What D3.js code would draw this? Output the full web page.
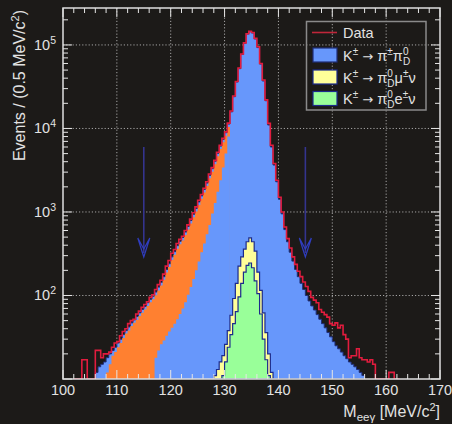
<!DOCTYPE html>
<html>
<head>
<meta charset="utf-8">
<script src="https://cdn.jsdelivr.net/npm/d3@7"></script>
<style>
  html, body { margin: 0; padding: 0; background: #1c1a18; }
  svg { display: block; }
  text { font-family: "Liberation Sans", Arial, Helvetica, sans-serif; fill: #e2e2e2; }
</style>
</head>
<body>
<svg id="chart" width="452" height="424"></svg>
<script>
// Histogram binning: 0.5 MeV bins, arrays start at their own low edge
const binWidth = 0.5;

// Data, bins from 102.0 MeV to 162.0 MeV (low edges)
const dataStart = 102.0;
const dataCounts = [
  0, 0, 0, 17, 17, 0, 0, 9, 22, 22,
  18, 20, 20, 21, 24, 27, 28, 33, 37, 40,
  46, 50, 52, 60, 65, 72, 78, 84, 95, 102,
  118, 135, 152, 180, 225, 262, 320, 356, 420, 470,
  512, 600, 700, 820, 980, 1150, 1380, 1620, 1920, 2300,
  2850, 3400, 4150, 5200, 6300, 7600, 9100, 11600, 16200, 24500,
  36500, 53000, 78000, 106000, 136000, 146000, 141000, 120000, 95000, 60000,
  38000, 22000, 11500, 6300, 3800, 2400, 1500, 1000, 660, 480,
  370, 290, 236, 195, 168, 145, 128, 112, 95, 88,
  82, 68, 63, 59, 55, 46, 44, 47, 41, 44,
  34, 30, 18, 19, 19, 23, 18, 17, 17, 16,
  17, 15, 9, 8, 0, 9, 0, 12, 12, 0,
  0
];

// Simulated K± → π±π0D, full sample (106.0 – 155.5)
const totalStart = 106.0;
const totalCounts = [
  12, 14, 15, 16, 18, 20, 22, 24, 27, 30,
  34, 38, 42, 47, 51, 56, 62, 68, 74, 82,
  90, 98, 110, 126, 144, 168, 205, 240, 290, 335,
  395, 445, 495, 575, 670, 790, 940, 1100, 1320, 1560,
  1860, 2220, 2750, 3300, 4050, 5050, 6150, 7400, 8900, 11300,
  15800, 24000, 36000, 52000, 77000, 105000, 135000, 144000, 139000, 118000,
  93000, 59000, 37000, 21500, 11000, 6000, 3650, 2300, 1420, 950,
  615, 440, 330, 258, 205, 168, 140, 118, 100, 86,
  75, 67, 59, 52, 46, 41, 36, 32, 28, 25,
  23, 21, 19, 17.5, 16, 15, 14, 13, 12, 11
];

// Low-mass tail component (108.0 – 130.5)
const tailStart = 108.0;
const tailCounts = [
  12, 15, 19, 21, 24, 27, 31, 35, 38, 43,
  47, 51, 57, 62, 68, 75, 83, 90, 101, 115,
  132, 154, 188, 220, 266, 308, 363, 410, 455, 530,
  617, 728, 866, 1013, 1216, 1437, 1713, 2045, 2533, 3040,
  3730, 4650, 5665, 6815, 8200, 10400
];

// Core component, left flank (116.5 – 130.5)
const coreStart = 116.5;
const coreCounts = [
  9, 18, 22, 26, 29, 33, 37, 41, 46, 52,
  60, 70, 83, 102, 126, 158, 200, 255, 330, 420,
  540, 700, 960, 1280, 1750, 2400, 3400, 5000, 8000
];

// K± → π0D μ±ν + K± → π0D e±ν, stacked (128.0 – 138.5)
const kmu3Start = 128.0;
const kmu3Counts = [
  11, 13, 16, 19, 26, 38, 58, 92, 140, 225,
  290, 360, 440, 490, 440, 340, 190, 115, 62, 36,
  20, 12
];

// K± → π0D e±ν (129.5 – 138.0)
const ke3Start = 129.5;
const ke3Counts = [
  11, 16, 24, 34, 46, 64, 96, 140, 190, 230,
  245, 215, 150, 105, 60, 30, 17, 11
];

// Signal-region boundaries (arrows)
const cutValues = [115, 145];

// Axes
const xDomain = [100, 170];
const xMajorTicks = [100, 110, 120, 130, 140, 150, 160, 170];
const yDomain = [10, 2.77e5];
const yDecades = [2, 3, 4, 5];

// ---------------------------------------------------------------
const svg = d3.select("#chart");
const W = 452, H = 424;
const frame = { left: 63, right: 440, top: 8, bottom: 379 };

svg.append("rect").attr("width", W).attr("height", H).attr("fill", "#1c1a18");

const x = d3.scaleLinear().domain(xDomain).range([frame.left, frame.right]);
const y = d3.scaleLog().domain(yDomain).range([frame.bottom, frame.top]);
const y0 = frame.bottom;
const yv = v => (v > yDomain[0] ? y(v) : y0);

svg.append("defs").append("clipPath").attr("id", "plotclip")
  .append("rect")
  .attr("x", frame.left).attr("y", frame.top)
  .attr("width", frame.right - frame.left).attr("height", frame.bottom - frame.top);

// Grid
const grid = svg.append("g").attr("stroke", "#c8c8c8").attr("stroke-width", 1)
  .attr("stroke-dasharray", "1.2,2").attr("opacity", 0.8);
xMajorTicks.slice(1, -1).forEach(v => {
  grid.append("line").attr("x1", x(v)).attr("x2", x(v))
    .attr("y1", frame.top).attr("y2", frame.bottom);
});
yDecades.forEach(d => {
  const v = Math.pow(10, d);
  grid.append("line").attr("x1", frame.left).attr("x2", frame.right)
    .attr("y1", y(v)).attr("y2", y(v));
});

// Step path of a histogram, closed to the axis floor
function stepPath(start, values) {
  let p = `M${x(start)},${y0}`;
  values.forEach((v, i) => {
    const e0 = start + i * binWidth, e1 = e0 + binWidth, yy = yv(v);
    p += `L${x(e0)},${yy}L${x(e1)},${yy}`;
  });
  p += `L${x(start + values.length * binWidth)},${y0}`;
  return p;
}

const plot = svg.append("g").attr("clip-path", "url(#plotclip)");

plot.append("path").attr("d", stepPath(totalStart, totalCounts) + "Z")
  .attr("fill", "#6797fb").attr("stroke", "#1f2d78").attr("stroke-width", 1);
plot.append("path").attr("d", stepPath(tailStart, tailCounts) + "Z")
  .attr("fill", "#ff8030");
plot.append("path").attr("d", stepPath(coreStart, coreCounts) + "Z")
  .attr("fill", "#6797fb");
plot.append("path").attr("d", stepPath(kmu3Start, kmu3Counts) + "Z")
  .attr("fill", "#ffff99").attr("stroke", "#1c2a8c").attr("stroke-width", 1.2);
plot.append("path").attr("d", stepPath(ke3Start, ke3Counts) + "Z")
  .attr("fill", "#99ff99").attr("stroke", "#1c2a8c").attr("stroke-width", 1.2);
plot.append("path").attr("d", stepPath(dataStart, dataCounts))
  .attr("fill", "none").attr("stroke", "#e21c3e").attr("stroke-width", 1.6);

// Cut arrows
cutValues.forEach(c => {
  const cx = x(c), top = 147, tip = 257;
  svg.append("line").attr("x1", cx).attr("x2", cx).attr("y1", top).attr("y2", tip - 4)
    .attr("stroke", "#34348e").attr("stroke-width", 1.6);
  svg.append("path")
    .attr("d", `M${cx - 6},${tip - 19}L${cx},${tip}L${cx + 6},${tip - 19}L${cx},${tip - 8}Z`)
    .attr("fill", "none").attr("stroke", "#2f3dc0").attr("stroke-width", 1.2);
});

// Ticks
const ticks = svg.append("g").attr("stroke", "#e6e6e6").attr("stroke-width", 1);
for (let v = xDomain[0]; v <= xDomain[1]; v += 2) {
  const len = (v % 10 === 0) ? 9 : 5;
  ticks.append("line").attr("x1", x(v)).attr("x2", x(v)).attr("y1", frame.bottom).attr("y2", frame.bottom - len);
  ticks.append("line").attr("x1", x(v)).attr("x2", x(v)).attr("y1", frame.top).attr("y2", frame.top + len);
}
for (let d = 1; d <= 5; d++) {
  for (let m = 1; m <= 9; m++) {
    const v = m * Math.pow(10, d);
    if (v < yDomain[0] || v > yDomain[1]) continue;
    const len = m === 1 ? 9 : 5;
    ticks.append("line").attr("x1", frame.left).attr("x2", frame.left + len).attr("y1", y(v)).attr("y2", y(v));
    ticks.append("line").attr("x1", frame.right).attr("x2", frame.right - len).attr("y1", y(v)).attr("y2", y(v));
  }
}

// Frame
svg.append("rect")
  .attr("x", frame.left).attr("y", frame.top)
  .attr("width", frame.right - frame.left).attr("height", frame.bottom - frame.top)
  .attr("fill", "none").attr("stroke", "#dedede").attr("stroke-width", 1.5);

// Rich text: pieces are {t, off, fs, font, stackUnder}; off is the baseline offset,
// stackUnder places a piece directly below the previous one (sub under sup)
function richText(sel, pieces) {
  let cur = 0, prev = null;
  pieces.forEach(p => {
    const ts = sel.append("tspan").text(p.t);
    const off = p.off || 0;
    if (off !== cur) ts.attr("dy", off - cur);
    cur = off;
    if (p.fs) ts.attr("font-size", p.fs);
    if (p.font) ts.attr("font-family", p.font);
    if (p.stackUnder && prev) ts.attr("dx", -prev.node().getComputedTextLength());
    prev = ts;
  });
  return sel;
}

// Tick labels
svg.append("g").selectAll("text").data(xMajorTicks).join("text")
  .attr("x", d => x(d)).attr("y", 395).attr("text-anchor", "middle")
  .attr("font-size", 14.5).text(d => d);

yDecades.forEach(d => {
  const t = svg.append("text").attr("x", 56).attr("y", y(Math.pow(10, d)) + 5)
    .attr("text-anchor", "end").attr("font-size", 14.5);
  richText(t, [{ t: "10" }, { t: String(d), off: -6, fs: 10.5 }]);
});

// Axis titles
const xt = svg.append("text").attr("x", 440).attr("y", 417).attr("text-anchor", "end").attr("font-size", 16);
richText(xt, [
  { t: "M" }, { t: "eeγ", off: 4, fs: 11.5 }, { t: " [MeV/c" }, { t: "2", off: -6, fs: 11 }, { t: "]" }
]);

const yt = svg.append("text").attr("transform", "translate(25,10) rotate(-90)")
  .attr("text-anchor", "end").attr("font-size", 16);
richText(yt, [{ t: "Events / (0.5 MeV/c" }, { t: "2", off: -6, fs: 11 }, { t: ")" }]);

// Legend
const lg = svg.append("g");
lg.append("rect").attr("x", 306.5).attr("y", 21.5).attr("width", 119.5).attr("height", 88.5)
  .attr("fill", "none").attr("stroke", "#8a8a8a").attr("stroke-width", 1.5);
lg.append("line").attr("x1", 312).attr("x2", 337).attr("y1", 32.5).attr("y2", 32.5)
  .attr("stroke", "#c0263a").attr("stroke-width", 1.6);
lg.append("text").attr("x", 343).attr("y", 38).attr("font-size", 14.5).text("Data");

const swatches = [
  { fill: "#6797fb", stroke: "#1f2d78", y: 48 },
  { fill: "#ffff99", stroke: "#1c2a8c", y: 70 },
  { fill: "#99ff99", stroke: "#1c2a8c", y: 91.5 }
];
swatches.forEach(s => {
  lg.append("rect").attr("x", 313).attr("y", s.y).attr("width", 24).attr("height", 14)
    .attr("fill", s.fill).attr("stroke", s.stroke).attr("stroke-width", 1.2);
});

const arrow = { t: " → ", font: "DejaVu Sans", fs: 13 };
const kaon = [{ t: "K" }, { t: "±", off: -6, fs: 10 }];
const pi0D = [{ t: "π" }, { t: "0", off: -6, fs: 10 }, { t: "D", off: 4, fs: 10, stackUnder: true }];

function legendEntry(yp, pieces) {
  const t = lg.append("text").attr("x", 343).attr("y", yp).attr("font-size", 14.5);
  richText(t, pieces);
}
legendEntry(60.5, [...kaon, arrow, { t: "π" }, { t: "±", off: -6, fs: 10 }, ...pi0D]);
legendEntry(82.5, [...kaon, arrow, ...pi0D, { t: "μ" }, { t: "±", off: -6, fs: 10 }, { t: "ν" }]);
legendEntry(104, [...kaon, arrow, ...pi0D, { t: "e" }, { t: "±", off: -6, fs: 10 }, { t: "ν" }]);
</script>
</body>
</html>
